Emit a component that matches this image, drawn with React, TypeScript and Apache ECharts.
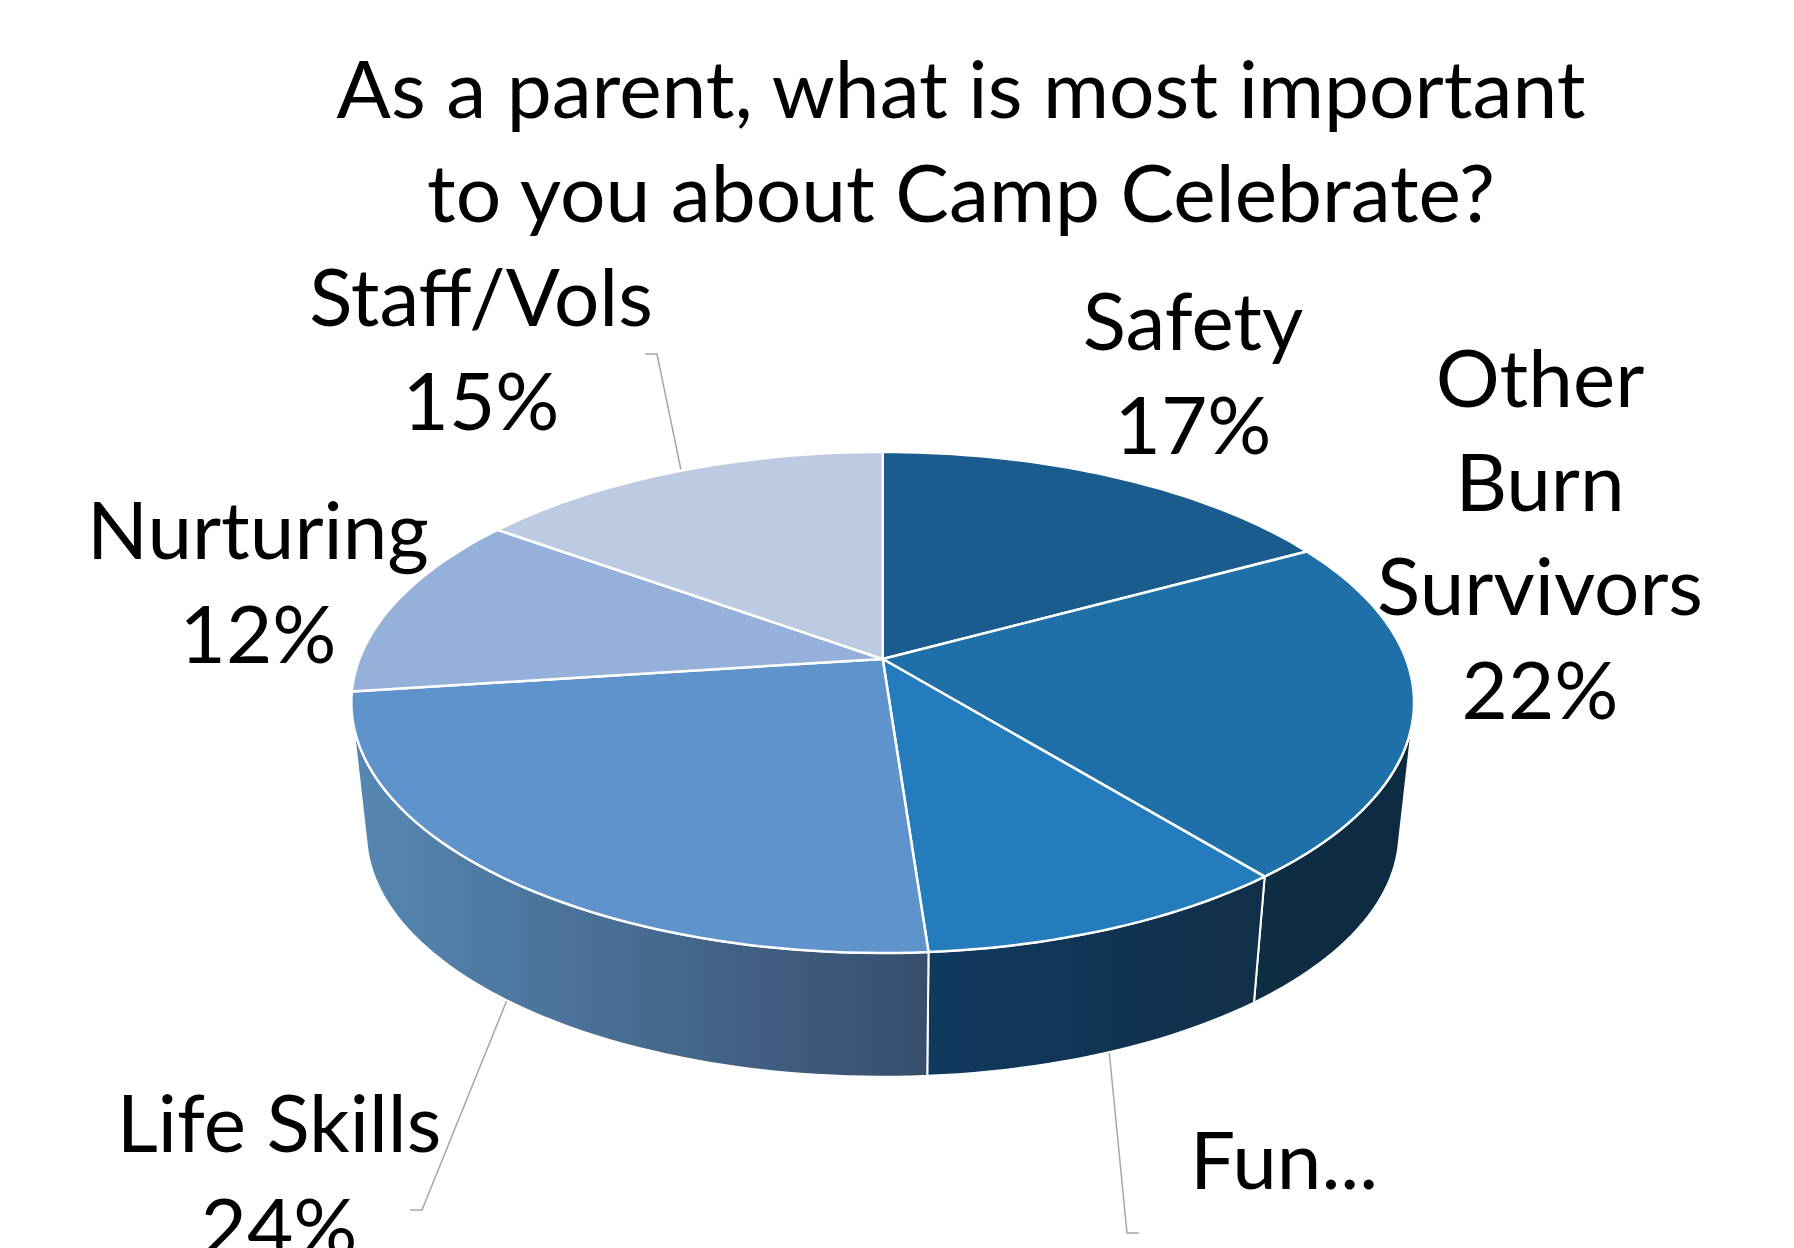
import React, { useEffect, useRef } from "react";
import * as echarts from "echarts";

const titleText = "As a parent, what is most important\nto you about Camp Celebrate?";
const categories = ["Safety", "Other\nBurn\nSurvivors", "Fun...", "Life Skills", "Nurturing", "Staff/Vols"];
const shares = [17, 22, 9.7, 24, 12, 15];
const showShare = [true, true, false, true, true, true];
const topColors = ["#1a5c8d", "#1f6fa8", "#247cbd", "#5f93cc", "#95b1d9", "#bccbe1"];
const wallStops: (string[] | null)[] = [
  null,
  ["#0e2e44", "#0d2b40"],
  ["#103a5f", "#112f48"],
  ["#5688b3", "#374e6c"],
  null,
  null,
];
// Anchor of each label's block (centre x, top y of the first line)
const labelAnchors = [
  [1193, 267],
  [1540, 324],
  [1284, 1106],
  [279, 1069],
  [258, 476],
  [481, 243],
];
const leaderLines = [
  [[645, 354], [657, 354], [681, 470]],
  [[1109, 1050], [1127, 1233], [1139, 1233]],
  [[509, 995], [422, 1210], [410, 1210]],
];

const FONT = "Lato";
const LABEL_SIZE = 80;
const TITLE_SIZE = 80.3;
const LINE_HEIGHT = 104;

// Perspective disc: a point at clockwise angle t from twelve o'clock.
const CX = 882.7;
const CY = 659;
const A = 523.3;
const B = 243;
const K = 0.1735;
const WALL_DROP = 132;
const BASE_SCALE = 0.972;
// Clockwise angles where the side wall meets the silhouette.
const WALL_FROM = 103;
const WALL_TO = 257;

function project(deg: number, lower: boolean): number[] {
  const t = (deg * Math.PI) / 180;
  const X = Math.sin(t);
  const Y = -Math.cos(t);
  const d = 1 - K * Y;
  const s = lower ? BASE_SCALE : 1;
  return [CX + (s * A * X) / d, CY + (lower ? WALL_DROP : 0) + (s * B * Y) / d];
}

function arc(from: number, to: number, lower: boolean): number[][] {
  const steps = Math.max(2, Math.ceil((to - from) / 1.5));
  const pts: number[][] = [];
  for (let i = 0; i <= steps; i++) pts.push(project(from + ((to - from) * i) / steps, lower));
  return pts;
}

const total = shares.reduce((a, b) => a + b, 0);
let running = 0;
const sliceRows = shares.map((v, i) => {
  const row = [(running / total) * 360, ((running + v) / total) * 360, i];
  running += v;
  return row;
});

function renderTop(_: unknown, api: any) {
  const from = api.value(0);
  const to = api.value(1);
  const idx = api.value(2);
  return {
    type: "polygon",
    shape: { points: [[CX, CY], ...arc(from, to, false)] },
    style: { fill: topColors[idx], stroke: "#ffffff", lineWidth: 2.5, lineJoin: "round" },
  };
}

function renderWall(_: unknown, api: any) {
  const idx = api.value(2);
  const from = Math.max(api.value(0), WALL_FROM);
  const to = Math.min(api.value(1), WALL_TO);
  const stops = wallStops[idx];
  if (!stops || to <= from) return { type: "group", children: [] };
  return {
    type: "polygon",
    shape: { points: [...arc(from, to, false), ...arc(from, to, true).reverse()] },
    style: {
      fill: new echarts.graphic.LinearGradient(0, 0, 1, 0, [
        { offset: 0, color: stops[0] },
        { offset: 1, color: stops[1] },
      ]),
      stroke: "#ffffff",
      lineWidth: 2,
      lineJoin: "round",
    },
  };
}

export default function App() {
  const ref = useRef<HTMLDivElement>(null);
  useEffect(() => {
    const chart = echarts.init(ref.current!, undefined, { renderer: "svg" });
    const labelGraphics = categories.map((name, i) => ({
      type: "text",
      silent: true,
      style: {
        text: showShare[i] ? `${name}\n${shares[i]}%` : name,
        x: labelAnchors[i][0],
        y: labelAnchors[i][1],
        font: `${LABEL_SIZE}px ${FONT}`,
        lineHeight: LINE_HEIGHT,
        fill: "#000000",
        textAlign: "center",
        textVerticalAlign: "top",
      },
    }));
    const leaderGraphics = leaderLines.map((points) => ({
      type: "polyline",
      silent: true,
      shape: { points },
      style: { stroke: "#a6a6a6", lineWidth: 1.5, fill: "none" },
    }));
    chart.setOption({
      animation: false,
      backgroundColor: "#ffffff",
      title: {
        text: titleText,
        left: 956,
        top: 30,
        textAlign: "center",
        textStyle: {
          fontFamily: FONT,
          fontSize: TITLE_SIZE,
          fontWeight: "normal",
          color: "#000000",
          lineHeight: LINE_HEIGHT,
        },
      },
      graphic: { elements: [...leaderGraphics, ...labelGraphics] },
      series: [
        { type: "custom", coordinateSystem: "none", renderItem: renderWall, data: sliceRows, silent: true, z: 1 },
        { type: "custom", coordinateSystem: "none", renderItem: renderTop, data: sliceRows, silent: true, z: 2 },
      ],
    });
    return () => chart.dispose();
  }, []);
  return (
    <div
      ref={ref}
      style={{ position: "fixed", left: 0, top: 0, width: 1794, height: 1248, overflow: "hidden" }}
    />
  );
}
